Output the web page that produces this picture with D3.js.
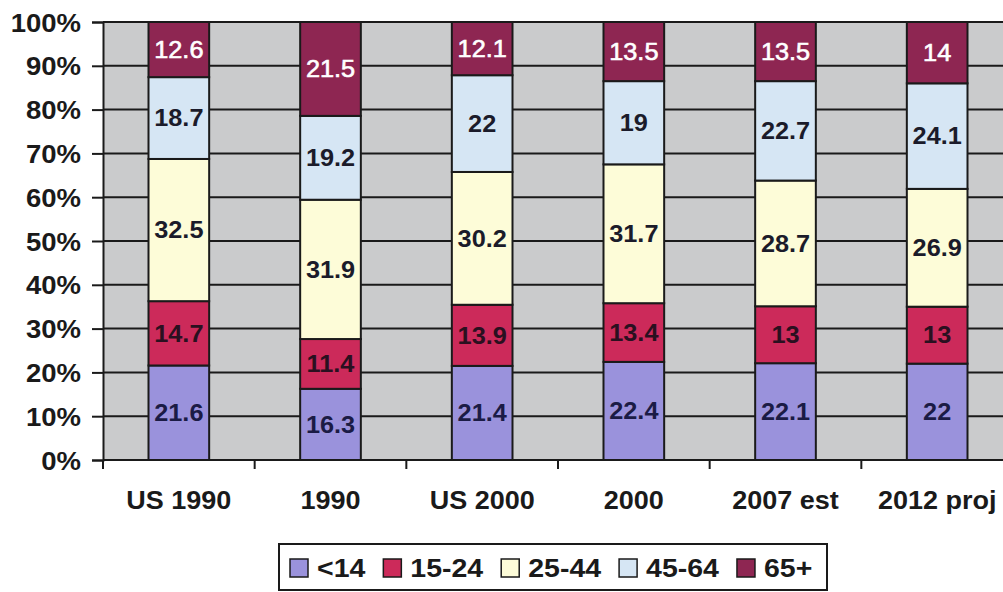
<!DOCTYPE html>
<html>
<head>
<meta charset="utf-8">
<script src="https://cdn.jsdelivr.net/npm/d3@7"></script>
<style>
  body { margin: 0; background: #fff; }
  text { font-family: "Liberation Sans", Arial, sans-serif; }
</style>
</head>
<body>
<div id="chart"></div>
<script>
// Categories and age-group values (percent).
const categories = ["US 1990", "1990", "US 2000", "2000", "2007 est", "2012 proj"];
const groups = ["<14", "15-24", "25-44", "45-64", "65+"];
const under14 = [21.6, 16.3, 21.4, 22.4, 22.1, 22];
const age15to24 = [14.7, 11.4, 13.9, 13.4, 13, 13];
const age25to44 = [32.5, 31.9, 30.2, 31.7, 28.7, 26.9];
const age45to64 = [18.7, 19.2, 22, 19, 22.7, 24.1];
const age65plus = [12.6, 21.5, 12.1, 13.5, 13.5, 14];
const yTicks = [0, 0.1, 0.2, 0.3, 0.4, 0.5, 0.6, 0.7, 0.8, 0.9, 1];

const colors = ["#9a92dc", "#cc2a5a", "#fdfcd8", "#d6e6f4", "#8e2652"];
const labelColors = ["#1b1b45", "#2a1020", "#1b1b2a", "#1b1b2a", "#ffffff"];

function createStackedChart(container, width, height) {
    const marginTop = 22;
    const marginLeft = 103;
    const plotRight = 1013;
    const plotBottom = 460;

    const table = categories.map((c, i) => ({
        cat: c,
        "<14": under14[i], "15-24": age15to24[i], "25-44": age25to44[i],
        "45-64": age45to64[i], "65+": age65plus[i]
    }));

    const series = d3.stack()
        .keys(groups)
        .offset(d3.stackOffsetExpand)(table);

    const x = d3.scaleBand()
        .domain(categories)
        .range([marginLeft, plotRight])
        .paddingInner(0.6)
        .paddingOuter(0.3);

    const y = d3.scaleLinear()
        .domain([0, 1])
        .range([plotBottom, marginTop]);

    // Attach to the page right away so text can be measured.
    const svg = d3.select(container).append("svg")
        .attr("width", width)
        .attr("height", height)
        .attr("viewBox", [0, 0, width, height]);

    // Plot background
    svg.append("rect")
        .attr("x", marginLeft)
        .attr("y", marginTop)
        .attr("width", plotRight - marginLeft)
        .attr("height", plotBottom - marginTop)
        .attr("fill", "#cacbcc");

    // Horizontal grid lines
    svg.append("g")
        .selectAll("line")
        .data(yTicks.slice(1))
        .join("line")
        .attr("x1", marginLeft)
        .attr("x2", plotRight)
        .attr("y1", d => y(d))
        .attr("y2", d => y(d))
        .attr("stroke", "#1a1a1a")
        .attr("stroke-width", 2);

    // Bars
    const layer = svg.append("g")
        .selectAll("g")
        .data(series)
        .join("g")
        .attr("fill", (d, i) => colors[i]);

    layer.selectAll("rect")
        .data(d => d)
        .join("rect")
        .attr("x", d => x(d.data.cat))
        .attr("y", d => y(d[1]))
        .attr("width", x.bandwidth())
        .attr("height", d => y(d[0]) - y(d[1]))
        .attr("stroke", "#1a1a1a")
        .attr("stroke-width", 2);

    // Value labels
    series.forEach((s, si) => {
        svg.append("g")
            .selectAll("text")
            .data(s)
            .join("text")
            .attr("transform", d => `translate(${x(d.data.cat) + x.bandwidth() / 2},${y((d[0] + d[1]) / 2)}) scale(1.1,1)`)
            .attr("text-anchor", "middle")
            .attr("dy", "0.36em")
            .attr("font-size", 23)
            .attr("font-weight", si === 4 ? "normal" : "bold")
            .attr("stroke", si === 4 ? labelColors[si] : "none")
            .attr("stroke-width", 0.6)
            .attr("fill", labelColors[si])
            .text(d => d.data[s.key]);
    });

    // Y axis
    svg.append("g")
        .attr("transform", `translate(${marginLeft},0)`)
        .call(d3.axisLeft(y).tickValues(yTicks).tickFormat(d3.format(".0%")).tickSize(11).tickPadding(0))
        .call(g => g.select(".domain").attr("stroke", "#1a1a1a").attr("stroke-width", 2))
        .call(g => g.selectAll(".tick line").attr("stroke", "#1a1a1a").attr("stroke-width", 2))
        .call(g => g.selectAll(".tick text").remove())
        .call(g => g.selectAll(".tick").append("text")
            .attr("transform", "translate(-22,0) scale(1.1,1)")
            .attr("text-anchor", "end")
            .attr("dy", "0.36em")
            .attr("font-size", 25)
            .attr("font-weight", "bold")
            .attr("fill", "#1a1a1a")
            .text(d => d3.format(".0%")(d)));

    // X axis line and ticks at band boundaries
    const bounds = categories.map(c => x(c) - x.step() * x.paddingOuter());
    svg.append("line")
        .attr("x1", marginLeft).attr("x2", plotRight)
        .attr("y1", plotBottom).attr("y2", plotBottom)
        .attr("stroke", "#1a1a1a").attr("stroke-width", 2);
    svg.append("g")
        .selectAll("line")
        .data(bounds)
        .join("line")
        .attr("x1", d => d).attr("x2", d => d)
        .attr("y1", plotBottom).attr("y2", plotBottom + 9)
        .attr("stroke", "#1a1a1a").attr("stroke-width", 2);

    svg.append("g")
        .selectAll("text")
        .data(categories)
        .join("text")
        .attr("transform", d => `translate(${x(d) + x.bandwidth() / 2},509) scale(1.08,1)`)
        .attr("text-anchor", "middle")
        .attr("font-size", 25)
        .attr("font-weight", "bold")
        .attr("fill", "#1a1a1a")
        .text(d => d);

    // Legend
    const legend = svg.append("g");
    legend.append("rect")
        .attr("x", 279).attr("y", 544)
        .attr("width", 548).attr("height", 46)
        .attr("fill", "#fff")
        .attr("stroke", "#1a1a1a").attr("stroke-width", 2);
    let lx = 290;
    groups.forEach((g, i) => {
        legend.append("rect")
            .attr("x", lx).attr("y", 559)
            .attr("width", 18).attr("height", 18)
            .attr("fill", colors[i])
            .attr("stroke", "#1a1a1a").attr("stroke-width", 1.5);
        const t = legend.append("text")
            .attr("transform", `translate(${lx + 27},577) scale(1.14,1)`)
            .attr("font-size", 25)
            .attr("font-weight", "bold")
            .attr("fill", "#1a1a1a")
            .text(g);
        lx += 27 + t.node().getComputedTextLength() * 1.14 + 18;
    });
}

createStackedChart(document.getElementById("chart"), 1003, 592);
</script>
</body>
</html>
